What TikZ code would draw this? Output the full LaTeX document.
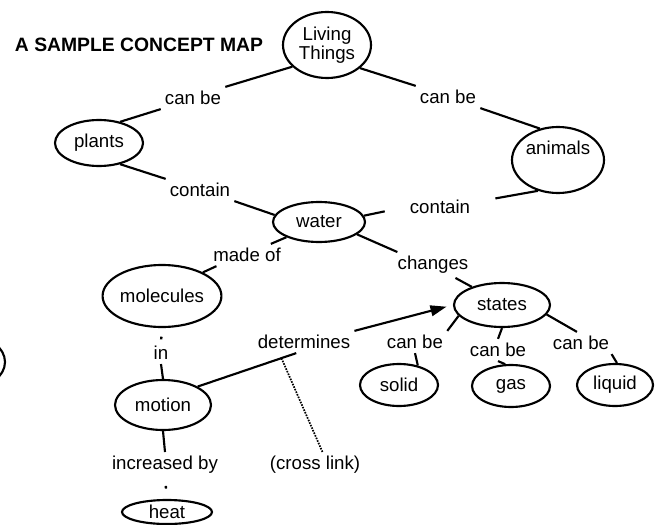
\documentclass[tikz,border=0pt]{standalone}
\usepackage{fontspec}
\setmainfont{Liberation Sans}
\usetikzlibrary{shapes.geometric,arrows.meta}
\begin{document}
\begin{tikzpicture}[x=0.75pt,y=-0.75pt,
  concept/.style={draw,ellipse,line width=1.6pt,inner sep=0pt,font=\fontsize{14}{17}\selectfont,align=center},
  lbl/.style={inner sep=3pt,font=\fontsize{14}{16}\selectfont},
  link/.style={line width=1.6pt},
  dotlink/.style={line width=1.8pt,dash pattern=on 2pt off 40pt},
  crossline/.style={line width=1.3pt,dash pattern=on 1.2pt off 0.9pt}]
\useasboundingbox (0,0) rectangle (655,524);
% title
\node[font=\bfseries\fontsize{14.5}{16}\selectfont,inner sep=0pt] (title) at (139,45) {A SAMPLE CONCEPT MAP};
% concepts
\node[concept,minimum width=66pt,minimum height=49.5pt] (living) at (327,45) {Living\\[-3pt]Things};
\node[concept,minimum width=66pt,minimum height=34.5pt] (plants) at (99,143) {plants};
\node[concept,minimum width=69pt,minimum height=49.5pt] (animals) at (558,160) {\raisebox{19pt}{animals}};
\node[concept,minimum width=69pt,minimum height=30pt] (water) at (319,222) {water};
\node[concept,minimum width=75pt,minimum height=46.5pt] (molecules) at (162,296) {molecules};
\node[concept,minimum width=72pt,minimum height=37.5pt] (motion) at (163,405) {motion};
\node[concept,minimum width=67.5pt,minimum height=18pt] (heat) at (167,512) {heat};
\node[concept,minimum width=72pt,minimum height=33pt] (states) at (502,305) {states};
\node[concept,minimum width=58.5pt,minimum height=31.5pt] (solid) at (399,385) {solid};
\node[concept,minimum width=58.5pt,minimum height=31.5pt] (gas) at (511,386) {gas};
\node[concept,minimum width=57pt,minimum height=31.5pt] (liquid) at (615,385) {liquid};
% partial concept at the left edge
\draw[line width=1.6pt] (-30,362) ellipse [x radius=35, y radius=26];
% link labels
\node[lbl] (cbA) at (193,98) {can be};
\node[lbl] (cbB) at (448,97) {can be};
\node[lbl] (ctA) at (200,190) {contain};
\node[lbl] (ctB) at (440,207) {contain};
\node[lbl] (madeof) at (247,255) {made of};
\node[lbl] (changes) at (433,265) {changes};
\node[lbl] (in) at (161,353) {in};
\node[lbl] (incby) at (165,465) {increased by};
\node[lbl] (determines) at (304,342) {determines};
\node[lbl] (crosslink) at (315,465) {(cross link)};
\node[lbl] (cbS) at (415,342) {can be};
\node[lbl] (cbG) at (498,350) {can be};
\node[lbl] (cbQ) at (581,343) {can be};
% connectors
\draw[link] (living.212) -- (cbA.north east);
\draw[link] (cbA.south west) -- (plants.45);
\draw[link] (plants.-45) -- (ctA.north west);
\draw[link] (ctA.south east) -- (water.171);
\draw[link] (water.205) -- (madeof.25);
\draw[link] (madeof.-160) -- (molecules.30);
\draw[dotlink,shorten <=6.5pt] (molecules.south) -- (in.north);
\draw[link] (in.south) -- (motion.north);
\draw[link] (motion.south) -- (incby.north);
\draw[dotlink,shorten <=6pt] (incby.south) -- (heat.north);
\draw[link] (motion.28) -- coordinate[pos=0.85] (xl) (determines.-125);
\draw[crossline] (xl) -- (crosslink.60);
\draw[link,-{Triangle[length=12pt,width=8pt]},shorten >=5pt] (determines.north east) -- (states.west);
\draw[link] (water.-18) -- (changes.160);
\draw[link] (changes.-30) -- (states.149);
\draw[link,shorten >=16pt] (water.8) -- (ctB.west);
\draw[link,shorten <=16pt] (ctB.8) -- (animals.237);
\draw[link] (living.-35) -- (cbB.north west);
\draw[link] (cbB.south east) -- (animals.120);
\draw[link] (states.-166) -- (cbS.north east);
\draw[link] (cbS.south) -- (solid.46);
\draw[link] (states.south) -- (cbG.north);
\draw[link] (cbG.south) -- (gas.105);
\draw[link] (states.-12) -- (cbQ.110);
\draw[link] (cbQ.-20) -- (liquid.85);
\end{tikzpicture}
\end{document}
